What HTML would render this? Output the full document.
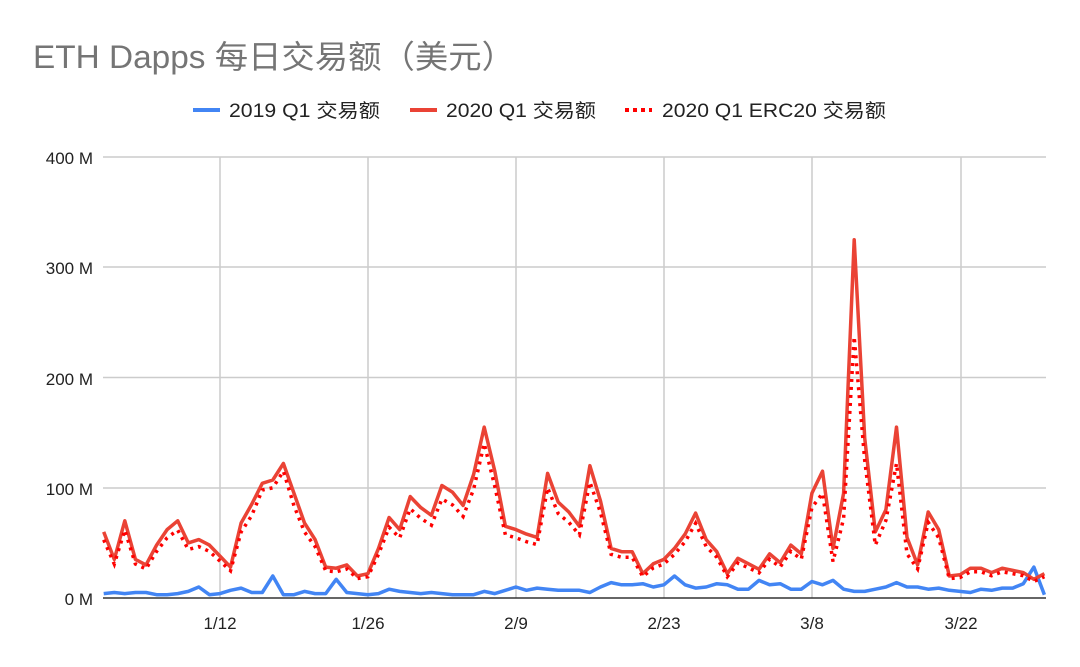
<!DOCTYPE html>
<html><head><meta charset="utf-8"><style>
body{margin:0;background:#fff;}
svg{display:block;font-family:"Liberation Sans","Noto Sans CJK SC",sans-serif;}
</style></head><body>
<svg id="c" width="1080" height="667" xmlns="http://www.w3.org/2000/svg">
<rect width="1080" height="667" fill="#fff"/>
<text x="33" y="68" font-size="32" fill="#757575" textLength="482" lengthAdjust="spacingAndGlyphs">ETH Dapps 每日交易额（美元）</text>
<line x1="193" y1="110" x2="220" y2="110" stroke="#4285f4" stroke-width="4"/>
<text x="229" y="117" font-size="19" fill="#222" textLength="151" lengthAdjust="spacingAndGlyphs">2019 Q1 交易额</text>
<line x1="410" y1="110" x2="437" y2="110" stroke="#ea4335" stroke-width="4"/>
<text x="446" y="117" font-size="19" fill="#222" textLength="150" lengthAdjust="spacingAndGlyphs">2020 Q1 交易额</text>
<line x1="625" y1="110" x2="652" y2="110" stroke="#ff0000" stroke-width="4" stroke-dasharray="4,4"/>
<text x="662" y="117" font-size="19" fill="#222" textLength="224" lengthAdjust="spacingAndGlyphs">2020 Q1 ERC20 交易额</text>
<g stroke="#cccccc" stroke-width="1.5">
<line x1="103" y1="157" x2="1046" y2="157"/>
<line x1="103" y1="267" x2="1046" y2="267"/>
<line x1="103" y1="377.5" x2="1046" y2="377.5"/>
<line x1="103" y1="488" x2="1046" y2="488"/>
<line x1="220" y1="157" x2="220" y2="598"/>
<line x1="368" y1="157" x2="368" y2="598"/>
<line x1="516" y1="157" x2="516" y2="598"/>
<line x1="664" y1="157" x2="664" y2="598"/>
<line x1="812" y1="157" x2="812" y2="598"/>
<line x1="961" y1="157" x2="961" y2="598"/>
</g>
<line x1="103" y1="598" x2="1046" y2="598" stroke="#333" stroke-width="1.5"/>
<g font-size="17" fill="#222" text-anchor="end">
<text x="93" y="164">400 M</text>
<text x="93" y="274">300 M</text>
<text x="93" y="385">200 M</text>
<text x="93" y="495">100 M</text>
<text x="93" y="605">0 M</text>
</g>
<g font-size="17" fill="#222" text-anchor="middle">
<text x="220" y="629">1/12</text>
<text x="368" y="629">1/26</text>
<text x="516" y="629">2/9</text>
<text x="664" y="629">2/23</text>
<text x="812" y="629">3/8</text>
<text x="961" y="629">3/22</text>
</g>
<g id="series"></g>
</svg>
<script>
var red=[60,35,70,35,30,48,62,70,50,53,48,38,28,68,85,104,107,122,95,68,53,28,27,30,20,22,45,73,62,92,82,75,102,96,84,112,155,115,65,62,58,55,113,87,78,65,120,88,45,42,42,22,31,35,45,58,77,53,42,22,36,31,26,40,32,48,40,95,115,45,95,325,145,60,80,155,55,30,78,62,20,21,27,27,23,27,25,23,17,22];
var ov={71:237,72:125,75:122,70:72,68:95,67:82,69:33,36:140,46:105,42:100,73:48,76:40,15:98,16:100,17:115};
var dot=red.map(function(v,i){return ov[i]!==undefined?ov[i]:v*0.88;});
var blue=[4,5,4,5,5,3,3,4,6,10,3,4,7,9,5,5,20,3,3,6,4,4,17,5,4,3,4,8,6,5,4,5,4,3,3,3,6,4,7,10,7,9,8,7,7,7,5,10,14,12,12,13,10,12,20,12,9,10,13,12,8,8,16,12,13,8,8,15,12,16,8,6,6,8,10,14,10,10,8,9,7,6,5,8,7,9,9,13,28,3];
function pts(a){return a.map(function(v,i){return (103.7+i*10.57).toFixed(1)+","+(598-v*1.1025).toFixed(1);}).join(" ");}
var g=document.getElementById("series");
g.innerHTML='<polyline points="'+pts(blue)+'" fill="none" stroke="#4285f4" stroke-width="3.5" stroke-linejoin="round"/>'+
'<polyline points="'+pts(red)+'" fill="none" stroke="#ea4335" stroke-width="3.5" stroke-linejoin="round"/>'+
'<polyline points="'+pts(dot)+'" fill="none" stroke="#ff0000" stroke-width="3.5" stroke-dasharray="3,5"/>';
</script>
</body></html>
